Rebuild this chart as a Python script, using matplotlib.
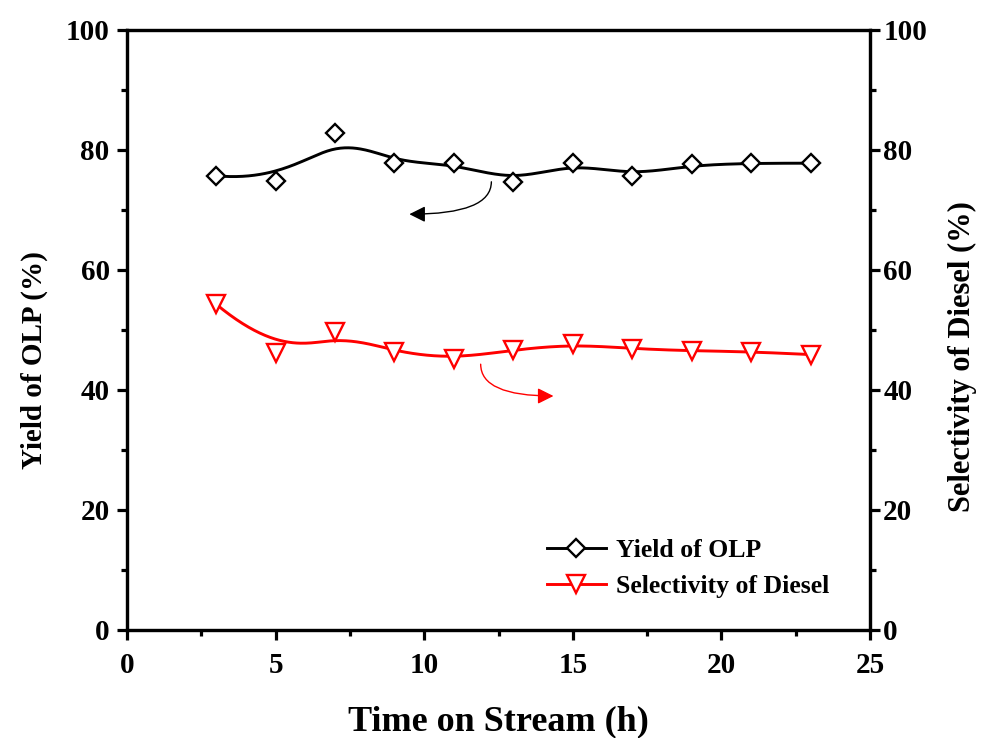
import numpy as np
import matplotlib
matplotlib.use("Agg")
import matplotlib.pyplot as plt
from matplotlib.ticker import MultipleLocator

plt.rcParams['font.family'] = ['Liberation Serif', 'DejaVu Serif']
plt.rcParams['font.weight'] = 'bold'
plt.rcParams['mathtext.default'] = 'regular'

# ---- data ----
time_h = [3, 5, 7, 9, 11, 13, 15, 17, 19, 21, 23]
yield_olp = [75.7, 74.8, 82.8, 77.8, 77.8, 74.7, 77.9, 75.7, 77.6, 77.8, 77.8]
sel_diesel = [54.3, 46.1, 49.6, 46.3, 45.2, 46.7, 47.6, 46.9, 46.5, 46.4, 45.9]

x_ticks = [0, 5, 10, 15, 20, 25]
y_ticks = [0, 20, 40, 60, 80, 100]
labels = ["Yield of OLP", "Selectivity of Diesel"]

# annotation arrows (data coordinates: start -> tip)
arrow_black = ((12.26, 74.7), (9.5, 69.3))
arrow_red = ((11.9, 44.3), (14.35, 39.0))


def bspline(xs, ys, k=3, num=400):
    """Clamped uniform B-spline using the data points as control points."""
    P = np.column_stack([xs, ys]).astype(float)
    n = len(P)
    inner = np.arange(1, n - k)
    knots = np.concatenate([[0] * (k + 1), inner, [n - k] * (k + 1)]).astype(float)
    t = np.linspace(0, n - k, num)
    t[-1] -= 1e-9

    def N(i, p, tt):
        if p == 0:
            return ((knots[i] <= tt) & (tt < knots[i + 1])).astype(float)
        a = np.zeros_like(tt)
        b = np.zeros_like(tt)
        d1 = knots[i + p] - knots[i]
        d2 = knots[i + p + 1] - knots[i + 1]
        if d1 > 0:
            a = (tt - knots[i]) / d1 * N(i, p - 1, tt)
        if d2 > 0:
            b = (knots[i + p + 1] - tt) / d2 * N(i + 1, p - 1, tt)
        return a + b

    B = np.array([N(i, k, t) for i in range(n)])
    C = B.T @ P
    return C[:, 0], C[:, 1]


fig = plt.figure(figsize=(9.82, 7.38), dpi=100)
ax = fig.add_axes([127 / 982, 1 - 630 / 738, (870 - 127) / 982, 600 / 738])

bx, by = bspline(time_h, yield_olp)
rx, ry = bspline(time_h, sel_diesel)

ax.plot(bx, by, color='black', lw=2.1, zorder=2)
ax.plot(rx, ry, color='red', lw=2.1, zorder=2)
ax.plot(time_h, yield_olp, linestyle='none', marker='D', ms=9.5, mfc='white',
        mec='black', mew=1.7, zorder=3)
ax.plot(time_h, sel_diesel, linestyle='none', marker='v', ms=13, mfc='white',
        mec='red', mew=1.7, zorder=3)

# legend proxies
h1, = ax.plot([], [], color='black', lw=2.1, marker='D', ms=9.5, mfc='white',
              mec='black', mew=1.7, label=labels[0])
h2, = ax.plot([], [], color='red', lw=2.1, marker='v', ms=13, mfc='white',
              mec='red', mew=1.7, label=labels[1])
leg = ax.legend(handles=[h1, h2], loc='upper left', bbox_to_anchor=(0.565, 0.152),
                frameon=False, fontsize=18.5, handlelength=2.3, handletextpad=0.4,
                labelspacing=0.5, borderpad=0, borderaxespad=0, numpoints=1)
for t in leg.get_texts():
    t.set_fontweight('bold')

ax.annotate('', xy=arrow_black[1], xytext=arrow_black[0],
            arrowprops=dict(arrowstyle='-|>', color='black', lw=1.0,
                            mutation_scale=24,
                            connectionstyle='angle3,angleA=90,angleB=0',
                            shrinkA=0, shrinkB=0))
ax.annotate('', xy=arrow_red[1], xytext=arrow_red[0],
            arrowprops=dict(arrowstyle='-|>', color='red', lw=1.0,
                            mutation_scale=24,
                            connectionstyle='angle3,angleA=90,angleB=0',
                            shrinkA=0, shrinkB=0))

ax.set_xlim(0, 25)
ax.set_ylim(0, 100)
ax.set_xticks(x_ticks)
ax.set_yticks(y_ticks)
ax.xaxis.set_minor_locator(MultipleLocator(2.5))
ax.yaxis.set_minor_locator(MultipleLocator(10))

for s in ax.spines.values():
    s.set_linewidth(2.3)

ax.tick_params(which='major', direction='out', length=7.5, width=2.3,
               labelsize=21, pad=5, top=False, right=False)
ax.tick_params(axis='x', which='major', pad=8)
ax.tick_params(which='minor', direction='out', length=4, width=2.3,
               top=False, right=False)
for lab in ax.get_xticklabels() + ax.get_yticklabels():
    lab.set_fontweight('bold')

ax2 = ax.twinx()
ax2.set_ylim(0, 100)
ax2.set_yticks(y_ticks)
ax2.yaxis.set_minor_locator(MultipleLocator(10))
ax2.tick_params(which='major', direction='out', length=7.5, width=2.3,
                labelsize=21, pad=2)
ax2.tick_params(which='minor', direction='out', length=4, width=2.3)
for s in ax2.spines.values():
    s.set_linewidth(2.3)
for lab in ax2.get_yticklabels():
    lab.set_fontweight('bold')

ax.set_xlabel('Time on Stream (h)', fontsize=26, fontweight='bold', labelpad=19)
ax.set_ylabel('Yield of OLP (%)', fontsize=21, fontweight='bold')
ax2.set_ylabel('Selectivity of Diesel (%)', fontsize=22, fontweight='bold')
ax.yaxis.set_label_coords(-0.106, 0.45)
ax2.yaxis.set_label_coords(1.105, 0.455)

fig.savefig('out.png', dpi=100)
